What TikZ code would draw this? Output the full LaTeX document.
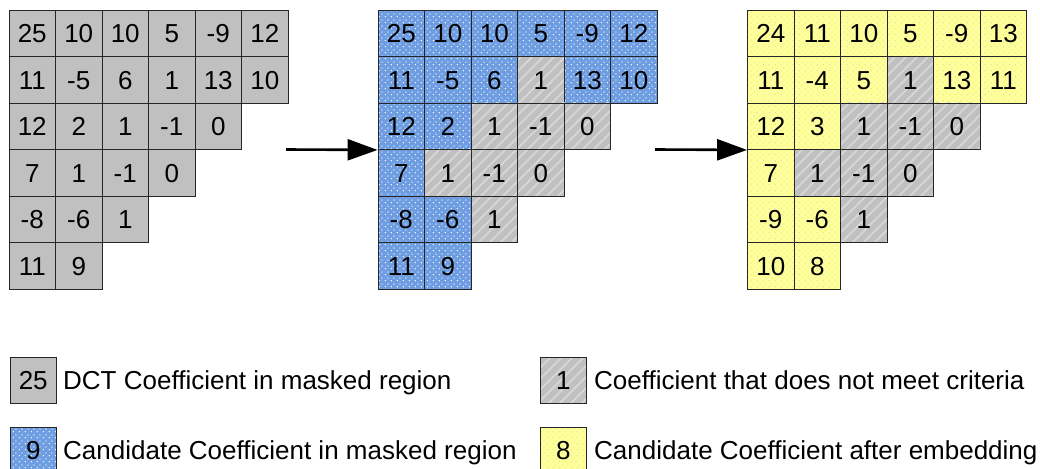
\documentclass[tikz,border=0pt]{standalone}
\usepackage{fontspec}
\setmainfont{Liberation Sans}
\usetikzlibrary{patterns,arrows.meta}

% staggered white dots
\pgfdeclarepatternformonly{qdots}{\pgfpointorigin}{\pgfpoint{6pt}{6pt}}{\pgfpoint{6pt}{6pt}}{%
  \pgfpathcircle{\pgfpoint{1.5pt}{1.5pt}}{0.75pt}%
  \pgfpathcircle{\pgfpoint{4.5pt}{4.5pt}}{0.75pt}%
  \pgfusepath{fill}}
% light diagonal stripes
\pgfdeclarepatternformonly{stripes}{\pgfpoint{-1pt}{-1pt}}{\pgfpoint{12pt}{12pt}}{\pgfpoint{11pt}{11pt}}{%
  \pgfsetlinewidth{1.8pt}%
  \pgfpathmoveto{\pgfpoint{-1pt}{-1pt}}\pgfpathlineto{\pgfpoint{12pt}{12pt}}%
  \pgfusepath{stroke}}

\definecolor{cellgray}{HTML}{C0C0C0}
\definecolor{cellblue}{HTML}{6E9EE1}
\definecolor{cellyellow}{HTML}{FFFF99}
\definecolor{yellowdot}{RGB}{226,226,170}
\definecolor{stripegray}{RGB}{214,214,214}

\tikzset{
  cell/.style={draw=black!85, line width=0.9pt, minimum size=46.5pt, inner sep=0pt,
    font=\fontsize{26}{30}\selectfont, text height=18.6pt, text depth=0pt},
  pc/.style={cell, fill=cellgray},
  gc/.style={cell, preaction={fill=cellgray}, pattern=stripes, pattern color=stripegray},
  bc/.style={cell, preaction={fill=cellblue}, pattern=qdots, pattern color=white},
  yc/.style={cell, preaction={fill=cellyellow}, pattern=qdots, pattern color=yellowdot},
  legtext/.style={anchor=base west, inner sep=0pt, font=\fontsize{26}{30}\selectfont},
  arr/.style={line width=2.6pt, -{Triangle[length=30pt,width=21pt]}}
}

% one row of cells: #1 name prefix, #2 left edge, #3 row index, #4 value/style list
\newcommand\cellrow[4]{%
  \foreach \v/\s [count=\c from 0] in {#4} {
    \node[\s] (#1-#3-\c) at ({#2+23.25+46.5*\c},{10+23.25+46.5*#3}) {\v};
  }}

\begin{document}
\begin{tikzpicture}[x=1pt,y=-1pt]
\clip (0,0) rectangle (1040,468);

% input block
\cellrow{a}{9}{0}{25/pc,10/pc,10/pc,5/pc,-9/pc,12/pc}
\cellrow{a}{9}{1}{11/pc,-5/pc,6/pc,1/pc,13/pc,10/pc}
\cellrow{a}{9}{2}{12/pc,2/pc,1/pc,-1/pc,0/pc}
\cellrow{a}{9}{3}{7/pc,1/pc,-1/pc,0/pc}
\cellrow{a}{9}{4}{-8/pc,-6/pc,1/pc}
\cellrow{a}{9}{5}{11/pc,9/pc}

% candidate selection
\cellrow{b}{378}{0}{25/bc,10/bc,10/bc,5/bc,-9/bc,12/bc}
\cellrow{b}{378}{1}{11/bc,-5/bc,6/bc,1/gc,13/bc,10/bc}
\cellrow{b}{378}{2}{12/bc,2/bc,1/gc,-1/gc,0/gc}
\cellrow{b}{378}{3}{7/bc,1/gc,-1/gc,0/gc}
\cellrow{b}{378}{4}{-8/bc,-6/bc,1/gc}
\cellrow{b}{378}{5}{11/bc,9/bc}

% after embedding
\cellrow{c}{747.5}{0}{24/yc,11/yc,10/yc,5/yc,-9/yc,13/yc}
\cellrow{c}{747.5}{1}{11/yc,-4/yc,5/yc,1/gc,13/yc,11/yc}
\cellrow{c}{747.5}{2}{12/yc,3/yc,1/gc,-1/gc,0/gc}
\cellrow{c}{747.5}{3}{7/yc,1/gc,-1/gc,0/gc}
\cellrow{c}{747.5}{4}{-9/yc,-6/yc,1/gc}
\cellrow{c}{747.5}{5}{10/yc,8/yc}

% arrows between the blocks
\coordinate (s1) at (286,149.5);
\coordinate (s2) at (655,149.5);
\draw[arr] (s1) -- (b-2-0.south west);
\draw[arr] (s2) -- (c-2-0.south west);

% legend
\node[pc] (k1) at (33.25,380.5) {25};
\node[legtext] (t1) at (63,389.8) {DCT Coefficient in masked region};
\node[gc] (k2) at (563.25,380.5) {1};
\node[legtext] (t2) at (594,389.8) {Coefficient that does not meet criteria};
\node[bc] (k3) at (33.25,450.5) {9};
\node[legtext] (t3) at (63,459.8) {Candidate Coefficient in masked region};
\node[yc] (k4) at (563.25,450.5) {8};
\node[legtext] (t4) at (594,459.8) {Candidate Coefficient after embedding};
\end{tikzpicture}
\end{document}
